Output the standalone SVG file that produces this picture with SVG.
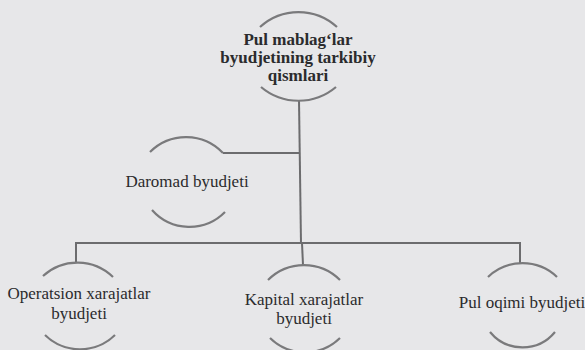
<svg xmlns="http://www.w3.org/2000/svg" width="585" height="350" viewBox="0 0 585 350">
<style>
.arc{fill:none;stroke:#7a7a7c;stroke-width:2.2}
.con{fill:none;stroke:#6c6c6e;stroke-width:2}
.t{font-size:17px;fill:#2b2b2d;text-anchor:middle}
.b{font-weight:bold}
</style>
<rect width="585" height="350" fill="#e7e7e9"/>
<g id="connectors">
<path class="con" d="M299,100 L301,244"/>
<path class="con" d="M223,153 L300,153"/>
<path class="con" d="M76,262 L76,243 L520,243 L520,263"/>
<path class="con" d="M302,243 L303,265"/>
</g>
<g font-family="Liberation Serif, Times New Roman, serif">
<g id="node-root">
<path class="arc" d="M260,27 A57,57 0 0 1 337,27"/>
<path class="arc" d="M261,87 A58,58 0 0 0 336,87"/>
<text class="t b" x="298" y="45">Pul mablag‘lar</text>
<text class="t b" x="298" y="63">byudjetining tarkibiy</text>
<text class="t b" x="298" y="81">qismlari</text>
</g>
<g id="node-daromad">
<path class="arc" d="M150,152 A51,51 0 0 1 223,153"/>
<path class="arc" d="M152,210 A50,50 0 0 0 225,212"/>
<text class="t" x="187" y="187">Daromad byudjeti</text>
</g>
<g id="node-operatsion">
<path class="arc" d="M43,276 A51,51 0 0 1 113,277"/>
<path class="arc" d="M45,335 A50,50 0 0 0 115,335"/>
<text class="t" x="79" y="299">Operatsion xarajatlar</text>
<text class="t" x="79" y="319">byudjeti</text>
</g>
<g id="node-kapital">
<path class="arc" d="M268,280 A51,51 0 0 1 340,280"/>
<path class="arc" d="M270,338 A50,50 0 0 0 340,338"/>
<text class="t" x="304" y="305">Kapital xarajatlar</text>
<text class="t" x="304" y="324">byudjeti</text>
</g>
<g id="node-pul-oqimi">
<path class="arc" d="M488,277 A50,50 0 0 1 557,277"/>
<path class="arc" d="M490,332 A42,42 0 0 0 555,332"/>
<text class="t" x="522" y="308">Pul oqimi byudjeti</text>
</g>
</g>
</svg>
